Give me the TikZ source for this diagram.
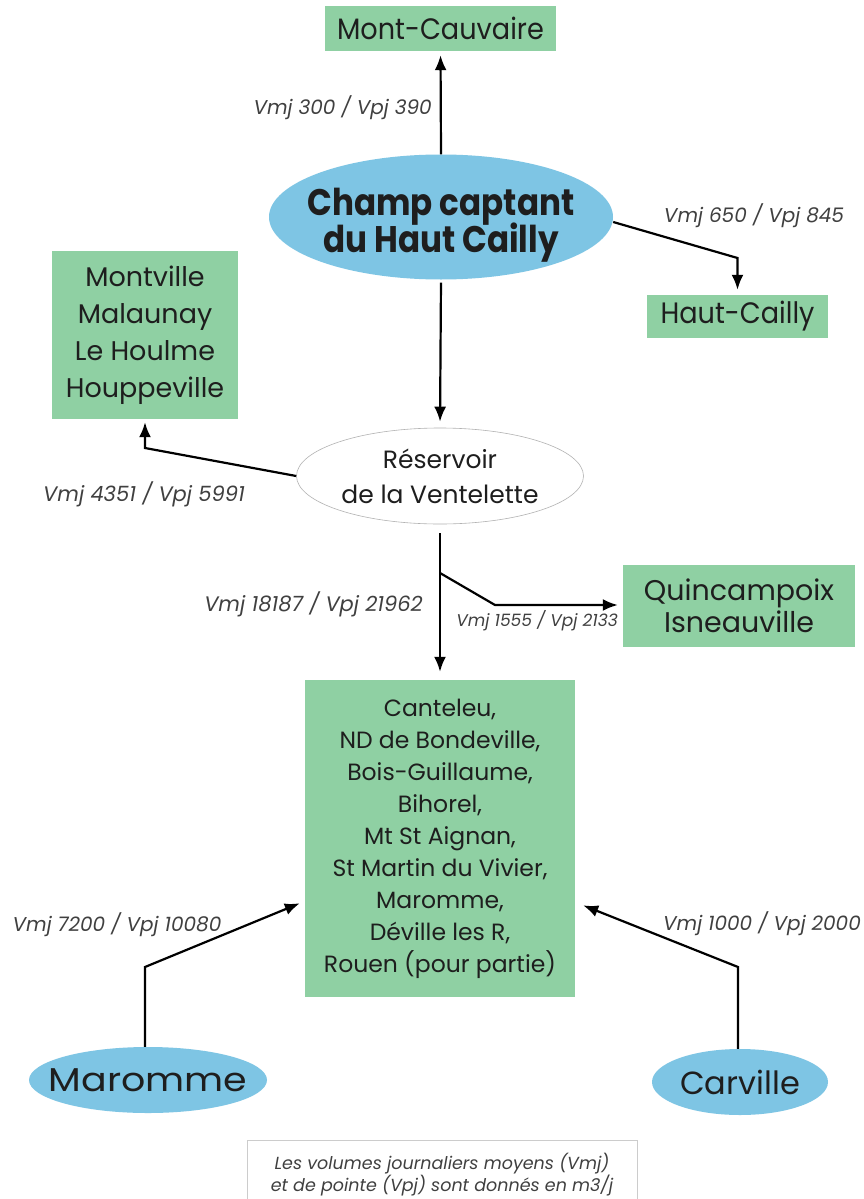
\documentclass[tikz,border=0pt]{standalone}
\usepackage{fontspec}
\setmainfont{Poppins}
\newfontfamily\champfont{Poppins}[FakeStretch=0.88]
\newfontfamily\tallfont{Poppins}[FakeStretch=0.92]
\newfontfamily\widefont{Poppins}[FakeStretch=1.15]
\newcommand\tightlines{\lineskiplimit=-50pt\relax}
\usetikzlibrary{shapes.geometric,arrows.meta}
\definecolor{boxgreen}{RGB}{143,208,163}
\definecolor{ellblue}{RGB}{126,197,228}
\definecolor{txt}{RGB}{30,30,30}
\begin{document}
\begin{tikzpicture}[x=1pt,y=-1pt,
  gbox/.style={rectangle, fill=boxgreen, draw=none, align=center, text=txt, inner sep=0pt},
  bell/.style={ellipse, fill=ellblue, draw=none, align=center, text=txt, inner sep=0pt},
  arr/.style={draw=black, line width=2.2pt, -{Latex[length=15pt,width=12pt]}},
  lab/.style={font=\fontsize{20}{24}\selectfont\itshape, text=txt!85, inner sep=0pt},
  boxfont/.style={font=\fontsize{27}{37}\selectfont}]
\useasboundingbox (0,0) rectangle (864,1199);
\fill[white] (0,0) rectangle (864,1199);

% nodes
\node[gbox, font=\fontsize{29.5}{37}\selectfont\tallfont, minimum width=231pt, minimum height=45pt] (mc) at (440.5,28.5) {Mont-Cauvaire};
\node[bell, inner xsep=-25pt, inner ysep=-3pt, minimum width=344pt, minimum height=125pt,
      font={\fontsize{37}{37}\selectfont\champfont\bfseries\tightlines}] (champ) at (441,217)
  {\rule{0pt}{44pt}Champ captant\\du Haut Cailly};
\node[gbox, font=\fontsize{29.5}{37}\selectfont\tallfont, minimum width=181pt, minimum height=43pt] (hc) at (737.5,316.5) {Haut-Cailly};
\node[gbox, boxfont, minimum width=186pt, minimum height=168pt] (mv) at (145,335) {Montville\\Malaunay\\Le Houlme\\Houppeville};
\node[ellipse, draw=gray!60, line width=0.6pt, fill=white, align=center, text=txt, inner sep=0pt, inner xsep=-5pt,
      minimum width=287pt, minimum height=96pt, font=\fontsize{25}{35}\selectfont] (res) at (440,476) {Réservoir\\de la Ventelette};
\node[gbox, font=\fontsize{28.5}{32}\selectfont, minimum width=232pt, minimum height=82pt] (qi) at (739,606) {Quincampoix\\Isneauville};
\node[gbox, font=\fontsize{23.5}{32}\selectfont, minimum width=270pt, minimum height=317pt] (big) at (440,838.5)
  {Canteleu,\\ND de Bondeville,\\Bois-Guillaume,\\Bihorel,\\Mt St Aignan,\\St Martin du Vivier,\\Maromme,\\Déville les R,\\Rouen (pour partie)};
\node[bell, inner xsep=-25pt, minimum width=238pt, minimum height=66pt, font=\fontsize{33}{36}\selectfont\widefont] (mar) at (148,1080) {Maromme};
\node[bell, minimum width=176pt, minimum height=66pt, font=\fontsize{32}{36}\selectfont] (car) at (740,1082) {Carville};
\node[draw=gray!40, line width=0.6pt, minimum width=390pt, minimum height=70pt, align=center, inner sep=0pt,
      text=txt!85, font=\fontsize{17.5}{21}\selectfont\itshape] (leg) at (442,1175)
  {Les volumes journaliers moyens (Vmj)\\et de pointe (Vpj) sont donnés en m3/j};

% labels
\node[lab, anchor=east] (l1) at (432,108) {Vmj 300 / Vpj 390};
\node[lab] (l2) at (754,216) {Vmj 650 / Vpj 845};
\node[lab, font=\fontsize{21}{24}\selectfont\itshape] (l3) at (144,494) {Vmj 4351 / Vpj 5991};
\node[lab, anchor=east, font=\fontsize{21}{24}\selectfont\itshape] (l4) at (423,604) {Vmj 18187 / Vpj 21962};
\node[lab, anchor=east, font=\fontsize{17}{20}\selectfont\itshape] (l5) at (618,621) {Vmj 1555 / Vpj 2133};
\node[lab] (l6) at (117,925) {Vmj 7200 / Vpj 10080};
\node[lab] (l7) at (762,924) {Vmj 1000 / Vpj 2000};

% coordinates
\coordinate (hcbend) at (737.5,258);
\coordinate (mvbend) at (145,448);
\coordinate (br) at (440,573);
\coordinate (qbend) at (495,605);
\coordinate (marbend) at (145,967);
\coordinate (carbend) at (738,967);

% connectors
\draw[arr, shorten >=4pt] (champ.north) -- (mc.south);
\draw[arr, shorten >=5pt] ([yshift=-5pt]champ.east) -- (hcbend) -- (hc.north);
\draw[arr, shorten <=3pt, shorten >=6pt] (champ.south) -- (res.north);
\draw[arr, shorten >=3pt] (res.west) -- (mvbend) -- (mv.south);
\draw[arr, shorten <=9pt, shorten >=8pt] (res.south) -- (big.north);
\draw[arr, shorten >=5pt] (br) -- (qbend) -- (qi.west |- qbend);
\draw[arr, shorten >=5.4pt] (mar.north -| marbend) -- (marbend) -- ([yshift=96pt]big.south west);
\draw[arr, shorten >=8.6pt] (car.north -| carbend) -- (carbend) -- ([yshift=95pt]big.south east);
\end{tikzpicture}
\end{document}
